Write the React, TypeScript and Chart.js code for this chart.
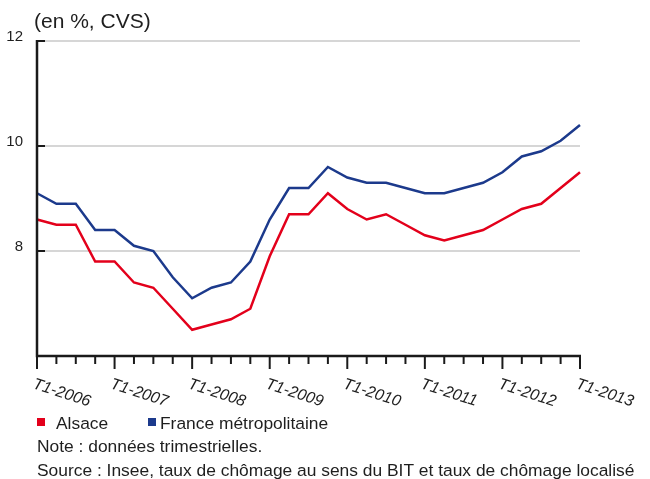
import React, { useEffect, useRef } from "react";
import { Chart, registerables } from "chart.js";

Chart.register(...registerables);

const categories = [
  "T1-2006", "T2-2006", "T3-2006", "T4-2006",
  "T1-2007", "T2-2007", "T3-2007", "T4-2007",
  "T1-2008", "T2-2008", "T3-2008", "T4-2008",
  "T1-2009", "T2-2009", "T3-2009", "T4-2009",
  "T1-2010", "T2-2010", "T3-2010", "T4-2010",
  "T1-2011", "T2-2011", "T3-2011", "T4-2011",
  "T1-2012", "T2-2012", "T3-2012", "T4-2012",
  "T1-2013",
];

const alsace = [
  8.6, 8.5, 8.5, 7.8, 7.8, 7.4, 7.3, 6.9, 6.5, 6.6, 6.7, 6.9, 7.9, 8.7, 8.7,
  9.1, 8.8, 8.6, 8.7, 8.5, 8.3, 8.2, 8.3, 8.4, 8.6, 8.8, 8.9, 9.2, 9.5,
];

const france = [
  9.1, 8.9, 8.9, 8.4, 8.4, 8.1, 8.0, 7.5, 7.1, 7.3, 7.4, 7.8, 8.6, 9.2, 9.2,
  9.6, 9.4, 9.3, 9.3, 9.2, 9.1, 9.1, 9.2, 9.3, 9.5, 9.8, 9.9, 10.1, 10.4,
];

const xTickLabels = [
  "T1-2006", "T1-2007", "T1-2008", "T1-2009",
  "T1-2010", "T1-2011", "T1-2012", "T1-2013",
];
const yTickValues = [8, 10, 12];
const yMin = 6;
const yMax = 12;

const seriesNames = ["Alsace", "France métropolitaine"];
const unitLabel = "(en %, CVS)";
const noteText = "Note : données trimestrielles.";
const sourceText =
  "Source : Insee, taux de chômage au sens du BIT et taux de chômage localisé";

const RED = "#e3001b";
const BLUE = "#1c3a8c";
const TEXT = "#1e1e1e";
const FONT = '"Liberation Sans", Arial, Helvetica, sans-serif';

const decorPlugin = {
  id: "decor",
  beforeDatasetsDraw(chart: any) {
    const { ctx, chartArea: a, scales } = chart;
    const y = scales.y;
    ctx.save();
    ctx.strokeStyle = "#c8c8c8";
    ctx.lineWidth = 1.5;
    yTickValues.forEach((v) => {
      const py = y.getPixelForValue(v);
      ctx.beginPath();
      ctx.moveTo(a.left, py);
      ctx.lineTo(a.right, py);
      ctx.stroke();
    });
    ctx.restore();
  },
  afterDatasetsDraw(chart: any) {
    const { ctx, chartArea: a, scales } = chart;
    const x = scales.x;
    const y = scales.y;
    ctx.save();
    // axes
    ctx.strokeStyle = "#1a1a1a";
    ctx.lineWidth = 2.5;
    ctx.lineCap = "butt";
    ctx.beginPath();
    ctx.moveTo(a.left, a.top - 1);
    ctx.lineTo(a.left, a.bottom);
    ctx.lineTo(a.right + 1, a.bottom);
    ctx.stroke();
    // y inner ticks
    ctx.lineWidth = 2;
    yTickValues.forEach((v) => {
      const py = y.getPixelForValue(v);
      ctx.beginPath();
      ctx.moveTo(a.left, py);
      ctx.lineTo(a.left + 8, py);
      ctx.stroke();
    });
    // x ticks
    categories.forEach((c, i) => {
      const px = x.getPixelForValue(i);
      const major = xTickLabels.includes(c);
      ctx.beginPath();
      ctx.moveTo(px, a.bottom);
      ctx.lineTo(px, a.bottom + (major ? 13 : 8));
      ctx.stroke();
    });
    // y labels
    ctx.fillStyle = TEXT;
    ctx.font = `15px ${FONT}`;
    ctx.textAlign = "right";
    ctx.textBaseline = "alphabetic";
    yTickValues.forEach((v) => {
      const py = y.getPixelForValue(v);
      ctx.fillText(String(v), a.left - 14, py);
    });
    // x labels (italic, rotated clockwise)
    ctx.textAlign = "left";
    ctx.font = `italic 16px ${FONT}`;
    xTickLabels.forEach((lab) => {
      const px = x.getPixelForValue(categories.indexOf(lab));
      ctx.save();
      ctx.translate(px - 5, a.bottom + 32);
      ctx.rotate((18 * Math.PI) / 180);
      ctx.fillText(lab, 0, 0);
      ctx.restore();
    });
    // unit label
    ctx.font = `21px ${FONT}`;
    ctx.fillText(unitLabel, a.left - 3, 28);
    // legend
    const legendY = 429;
    ctx.font = `17.4px ${FONT}`;
    ctx.fillStyle = RED;
    ctx.fillRect(37, legendY - 11, 8, 8);
    ctx.fillStyle = TEXT;
    ctx.fillText(seriesNames[0], 56, legendY);
    ctx.fillStyle = BLUE;
    ctx.fillRect(148, legendY - 11, 8, 8);
    ctx.fillStyle = TEXT;
    ctx.fillText(seriesNames[1], 160, legendY);
    // notes
    ctx.fillText(noteText, 37, 452);
    ctx.fillText(sourceText, 37, 476);
    ctx.restore();
  },
};

export default function App() {
  const ref = useRef<HTMLCanvasElement | null>(null);
  useEffect(() => {
    if (!ref.current) return;
    const chart = new Chart(ref.current, {
      type: "line",
      data: {
        labels: categories,
        datasets: [
          {
            label: seriesNames[0],
            data: alsace,
            borderColor: RED,
            backgroundColor: RED,
            borderWidth: 2.5,
            pointRadius: 0,
            tension: 0,
          },
          {
            label: seriesNames[1],
            data: france,
            borderColor: BLUE,
            backgroundColor: BLUE,
            borderWidth: 2.5,
            pointRadius: 0,
            tension: 0,
          },
        ],
      },
      options: {
        responsive: false,
        animation: false,
        devicePixelRatio: 1,
        layout: { padding: { left: 37, top: 41, right: 70, bottom: 123 } },
        plugins: { legend: { display: false }, tooltip: { enabled: false } },
        scales: {
          x: { type: "category", display: false, offset: false },
          y: { display: false, min: yMin, max: yMax },
        },
      },
      plugins: [decorPlugin],
    });
    return () => chart.destroy();
  }, []);
  return (
    <div style={{ position: "absolute", left: 0, top: 0, width: 650, height: 479, background: "#fff" }}>
      <canvas ref={ref} width={650} height={479} />
    </div>
  );
}
